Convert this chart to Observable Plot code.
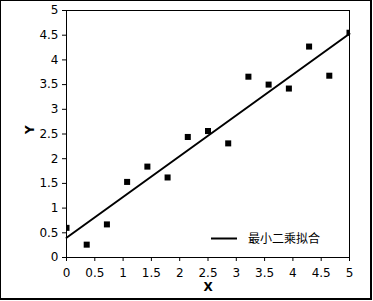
<!DOCTYPE html>
<html>
<head>
<meta charset="utf-8">
<script src="https://cdn.jsdelivr.net/npm/d3@7"></script>
<script src="https://cdn.jsdelivr.net/npm/@observablehq/plot@0.6"></script>
<style>
  html, body { margin: 0; padding: 0; background: white; }
  #wrap { position: relative; width: 373px; height: 301px; overflow: hidden; }
  #border { position: absolute; left: 0; top: 0; width: 372px; height: 300px; box-sizing: border-box;
            border-left: 1px solid black; border-top: 1px solid black;
            border-right: 2px solid black; border-bottom: 2px solid black; pointer-events: none; }
</style>
</head>
<body>
<div id="wrap"><div id="border"></div></div>
<script>
// Data
const xs = [0, 0.357, 0.714, 1.071, 1.429, 1.786, 2.143, 2.5, 2.857, 3.214, 3.571, 3.929, 4.286, 4.643, 5];
const ys = [0.60, 0.26, 0.67, 1.53, 1.84, 1.62, 2.44, 2.56, 2.31, 3.66, 3.50, 3.42, 4.27, 3.68, 4.55];
const fitX = [0, 5];
const fitY = [0.40, 4.53];
const ticks = [0, 0.5, 1, 1.5, 2, 2.5, 3, 3.5, 4, 4.5, 5];
const legendLabel = "最小二乘拟合";
const xLabel = "X";
const yLabel = "Y";

const points = xs.map((x, i) => ({x, y: ys[i]}));
const fit = fitX.map((x, i) => ({x, y: fitY[i]}));

function legendMark(index, scales, values, dims) {
  const g = d3.create("svg:g");
  const right = dims.width - dims.marginRight;
  const bottom = dims.height - dims.marginBottom;
  const yy = bottom - 18.5;
  g.append("line")
    .attr("x1", right - 138).attr("x2", right - 112)
    .attr("y1", yy).attr("y2", yy)
    .attr("stroke", "black").attr("stroke-width", 2);
  g.append("text")
    .attr("x", right - 101).attr("y", yy)
    .attr("dy", "0.35em")
    .attr("text-anchor", "start")
    .attr("font-family", "'Noto Sans CJK SC', sans-serif")
    .attr("font-size", 12)
    .attr("fill", "black")
    .text(legendLabel);
  return g.node();
}

const chart = Plot.plot({
  width: 373,
  height: 301,
  marginLeft: 66,
  marginRight: 24,
  marginTop: 10,
  marginBottom: 44,
  style: {fontFamily: "'DejaVu Sans', sans-serif", fontSize: "12px", background: "white", color: "black"},
  x: {domain: [0, 5], ticks: ticks, tickSize: 4, tickPadding: 7, label: null, tickFormat: d => String(d)},
  y: {domain: [0, 5], ticks: ticks, tickSize: 4, tickPadding: 4, label: null, tickFormat: d => String(d)},
  marks: [
    Plot.frame({stroke: "black", strokeWidth: 1}),
    Plot.line(fit, {x: "x", y: "y", stroke: "black", strokeWidth: 2}),
    Plot.dot(points, {x: "x", y: "y", symbol: "square", r: 3.4, fill: "black", stroke: "none", clip: "frame"}),
    Plot.text([xLabel], {frameAnchor: "bottom", dy: 33, text: d => d, fontWeight: "bold", fontSize: 12}),
    Plot.text([yLabel], {frameAnchor: "left", dx: -36, rotate: -90, text: d => d, fontWeight: "bold", fontSize: 12}),
    legendMark
  ]
});
document.getElementById("wrap").insertBefore(chart, document.getElementById("border"));
</script>
</body>
</html>
